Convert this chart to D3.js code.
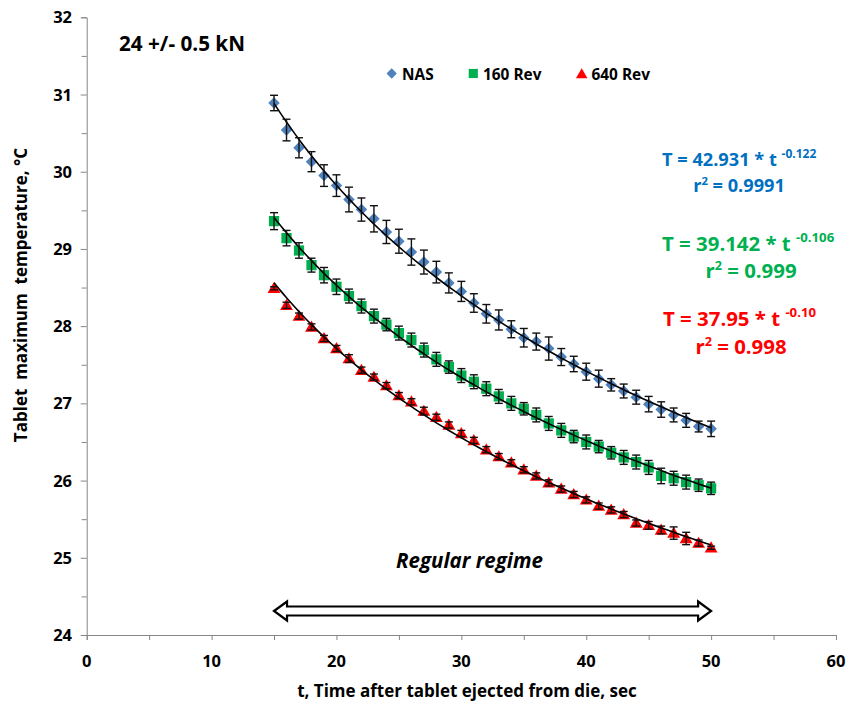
<!DOCTYPE html>
<html>
<head>
<meta charset="utf-8">
<script src="https://cdn.jsdelivr.net/npm/d3@7"></script>
<style>
  body { margin: 0; background: #fff; }
  svg { display: block; }
  text { font-family: "Open Sans", Lato, sans-serif; font-weight: bold; }
</style>
</head>
<body>
<div id="chart"></div>
<script>
// time after ejection, sec
var times = d3.range(15, 51);

// tablet maximum temperature, degC
var nasTemp = [30.89, 30.54, 30.31, 30.13, 29.95, 29.82, 29.64, 29.51, 29.39, 29.22, 29.10, 28.96,
  28.83, 28.70, 28.56, 28.45, 28.30, 28.16, 28.08, 27.96, 27.85, 27.80, 27.71, 27.60,
  27.51, 27.41, 27.32, 27.24, 27.16, 27.08, 26.99, 26.92, 26.85, 26.78, 26.70, 26.67];
var nasErr = [0.10, 0.14, 0.13, 0.13, 0.14, 0.14, 0.16, 0.15, 0.17, 0.15, 0.155, 0.17,
  0.155, 0.14, 0.13, 0.13, 0.12, 0.12, 0.13, 0.11, 0.12, 0.11, 0.15, 0.11,
  0.10, 0.11, 0.11, 0.08, 0.09, 0.09, 0.10, 0.10, 0.09, 0.09, 0.07, 0.10];

var rev160Temp = [29.36, 29.14, 28.98, 28.79, 28.66, 28.51, 28.39, 28.26, 28.13, 28.02, 27.91, 27.82,
  27.69, 27.57, 27.47, 27.36, 27.28, 27.19, 27.09, 27.00, 26.93, 26.85, 26.74, 26.65,
  26.57, 26.50, 26.44, 26.36, 26.30, 26.24, 26.17, 26.06, 26.03, 25.98, 25.94, 25.90];
var rev160Err = [0.11, 0.10, 0.10, 0.09, 0.10, 0.10, 0.09, 0.09, 0.09, 0.08, 0.09, 0.09,
  0.09, 0.09, 0.08, 0.09, 0.09, 0.09, 0.09, 0.09, 0.08, 0.09, 0.09, 0.09,
  0.08, 0.09, 0.08, 0.08, 0.09, 0.09, 0.09, 0.10, 0.09, 0.09, 0.08, 0.08];

var rev640Temp = [28.49, 28.27, 28.13, 27.99, 27.84, 27.71, 27.58, 27.43, 27.34, 27.23, 27.10, 27.02,
  26.90, 26.82, 26.72, 26.61, 26.52, 26.40, 26.31, 26.23, 26.14, 26.06, 25.97, 25.89,
  25.82, 25.75, 25.67, 25.62, 25.56, 25.45, 25.42, 25.36, 25.32, 25.25, 25.19, 25.13];
var rev640Err = [0.02, 0.04, 0.04, 0.04, 0.04, 0.04, 0.05, 0.04, 0.04, 0.04, 0.04, 0.04,
  0.05, 0.04, 0.04, 0.04, 0.04, 0.04, 0.04, 0.04, 0.04, 0.04, 0.04, 0.04,
  0.04, 0.04, 0.04, 0.04, 0.04, 0.04, 0.05, 0.05, 0.08, 0.08, 0.04, 0.02];

var seriesNames = ["NAS", "160 Rev", "640 Rev"];
var xTicks = [0, 10, 20, 30, 40, 50, 60];
var yTicks = [24, 25, 26, 27, 28, 29, 30, 31, 32];
var regime = [15, 50];

var eqText = [
  { pre: "T = 42.931 * t ", exp: "-0.122", r2: "0.9991" },
  { pre: "T = 39.142 * t ", exp: "-0.106", r2: "0.999" },
  { pre: "T = 37.95 * t ", exp: "-0.10", r2: "0.998" }
];

var series = [
  { name: seriesNames[0], temp: nasTemp, err: nasErr, color: "#4F81BD", shape: d3.symbolDiamond2, size: 84, eqColor: "#0070C0" },
  { name: seriesNames[1], temp: rev160Temp, err: rev160Err, color: "#00B050", shape: d3.symbolSquare, size: 105, eqColor: "#00B050" },
  { name: seriesNames[2], temp: rev640Temp, err: rev640Err, color: "#FF0000", shape: d3.symbolTriangle, size: 72, eqColor: "#FF0000" }
];

var W = 846, H = 703;
var svg = d3.select("#chart").append("svg")
  .attr("width", W).attr("height", H);

var x = d3.scaleLinear().domain([0, 60]).range([86.7, 836]);
var y = d3.scaleLinear().domain([24, 32]).range([635, 17.3]);

var axisColor = "#868686";

// y axis
var yAx = svg.append("g").attr("transform", "translate(" + x(0) + ",0)")
  .call(d3.axisLeft(y).tickValues(d3.range(24, 32.01, 0.5)).tickSize(5).tickFormat(""));
yAx.select(".domain").attr("stroke", axisColor);
yAx.selectAll(".tick line").attr("stroke", axisColor)
  .attr("x2", function (d) { return d % 1 === 0 ? -6 : -5; });
yTicks.forEach(function (v) {
  svg.append("text").attr("x", 72).attr("y", y(v) + 6)
    .attr("text-anchor", "end").attr("font-size", 16.5).text(v);
});

// x axis
var xAx = svg.append("g").attr("transform", "translate(0," + y(24) + ")")
  .call(d3.axisBottom(x).tickValues(d3.range(0, 60.01, 5)).tickSize(5).tickFormat(""));
xAx.select(".domain").attr("stroke", axisColor);
xAx.selectAll(".tick line").attr("stroke", axisColor);
xTicks.forEach(function (v) {
  svg.append("text").attr("x", x(v)).attr("y", 667)
    .attr("text-anchor", "middle").attr("font-size", 16.5).text(v);
});

// axis titles
svg.append("text")
  .attr("transform", "translate(27,295) rotate(-90)")
  .attr("text-anchor", "middle").attr("font-size", 17)
  .style("white-space", "pre")
  .text("Tablet  maximum  temperature, °C");

svg.append("text").attr("x", 467).attr("y", 697)
  .attr("text-anchor", "middle").attr("font-size", 17)
  .text("t, Time after tablet ejected from die, sec");

svg.append("text").attr("x", 119).attr("y", 51)
  .attr("font-size", 20.7).text("24 +/- 0.5 kN");

// power-law fit (least squares in log-log space, like a spreadsheet trendline)
function powerFit(ts, vs) {
  var lx = ts.map(Math.log), ly = vs.map(Math.log);
  var mx = d3.mean(lx), my = d3.mean(ly);
  var b = d3.sum(lx, function (v, i) { return (v - mx) * (ly[i] - my); }) /
          d3.sum(lx, function (v) { return (v - mx) * (v - mx); });
  var a = Math.exp(my - b * mx);
  return function (t) { return a * Math.pow(t, b); };
}

var plot = svg.append("g");
var line = d3.line().x(function (d) { return x(d[0]); }).y(function (d) { return y(d[1]); })
  .curve(d3.curveMonotoneX);

series.forEach(function (s) {
  var pts = times.map(function (t, i) { return { t: t, v: s.temp[i], e: s.err[i] }; });
  var g = plot.append("g");

  g.selectAll("path.mark").data(pts).enter().append("path")
    .attr("class", "mark")
    .attr("d", d3.symbol().type(s.shape).size(s.size))
    .attr("transform", function (d) {
      var dy = s.shape === d3.symbolTriangle ? 1 : 0;
      return "translate(" + x(d.t) + "," + (y(d.v) + dy) + ")";
    })
    .attr("fill", s.color);

  var f = powerFit(times, s.temp);
  var fitPts = d3.range(regime[0], regime[1] + 0.01, 0.5).map(function (t) { return [t, f(t)]; });
  g.append("path").attr("d", line(fitPts))
    .attr("fill", "none").attr("stroke", "#000").attr("stroke-width", 1.6);

  var eb = g.selectAll("g.eb").data(pts).enter().append("g").attr("class", "eb")
    .attr("stroke", "#111").attr("stroke-width", 1.4);
  eb.append("line")
    .attr("x1", function (d) { return x(d.t); }).attr("x2", function (d) { return x(d.t); })
    .attr("y1", function (d) { return y(d.v + d.e); }).attr("y2", function (d) { return y(d.v - d.e); });
  eb.append("line")
    .attr("x1", function (d) { return x(d.t) - 4; }).attr("x2", function (d) { return x(d.t) + 4; })
    .attr("y1", function (d) { return y(d.v + d.e); }).attr("y2", function (d) { return y(d.v + d.e); });
  eb.append("line")
    .attr("x1", function (d) { return x(d.t) - 4; }).attr("x2", function (d) { return x(d.t) + 4; })
    .attr("y1", function (d) { return y(d.v - d.e); }).attr("y2", function (d) { return y(d.v - d.e); });
});

// legend
var legendPos = [[391.7, 402], [473.3, 483], [581.7, 591.5]];
series.forEach(function (s, i) {
  svg.append("path")
    .attr("d", d3.symbol().type(s.shape).size(s.size * 0.8))
    .attr("transform", "translate(" + legendPos[i][0] + "," + (s.shape === d3.symbolTriangle ? 75 : 73.5) + ")")
    .attr("fill", s.color);
  svg.append("text").attr("x", legendPos[i][1]).attr("y", 79.5)
    .attr("font-size", 15.4).text(s.name);
});

// equations
var eqLayout = [
  { x: 662, y1: 166, y2: 192, cx: 739, fs: 18.2, sup: 12 },
  { x: 662, y1: 251, y2: 278, cx: 751, fs: 20.4, sup: 13.2 },
  { x: 663, y1: 326, y2: 354, cx: 741, fs: 20.4, sup: 13.2 }
];
series.forEach(function (s, i) {
  var L = eqLayout[i], E = eqText[i];
  var t1 = svg.append("text").attr("x", L.x).attr("y", L.y1)
    .attr("font-size", L.fs).attr("fill", s.eqColor).style("white-space", "pre");
  t1.append("tspan").text(E.pre);
  t1.append("tspan").attr("font-size", L.sup).attr("dy", -L.fs * 0.42).text(E.exp);
  var t2 = svg.append("text").attr("x", L.cx).attr("y", L.y2)
    .attr("text-anchor", "middle").attr("font-size", L.fs).attr("fill", s.eqColor);
  t2.append("tspan").text("r");
  t2.append("tspan").attr("font-size", L.fs * 0.62).attr("dy", -L.fs * 0.38).text("2");
  t2.append("tspan").attr("dy", L.fs * 0.38).text(" = " + E.r2);
});

// regular regime annotation
svg.append("text").attr("x", 469.5).attr("y", 568)
  .attr("text-anchor", "middle").attr("font-size", 20.5).attr("font-style", "italic")
  .text("Regular regime");

var ay = 611, shaft = 4.5, head = 9.5, hl = 13;
var xa = x(regime[0]), xb = x(regime[1]);
var arrowPts = [
  [xa, ay], [xa + hl, ay - head], [xa + hl, ay - shaft], [xb - hl, ay - shaft], [xb - hl, ay - head],
  [xb, ay], [xb - hl, ay + head], [xb - hl, ay + shaft], [xa + hl, ay + shaft], [xa + hl, ay + head]
];
svg.append("polygon")
  .attr("points", arrowPts.map(function (p) { return p.join(","); }).join(" "))
  .attr("fill", "#fff").attr("stroke", "#000").attr("stroke-width", 2.2)
  .attr("stroke-linejoin", "miter");
</script>
</body>
</html>
